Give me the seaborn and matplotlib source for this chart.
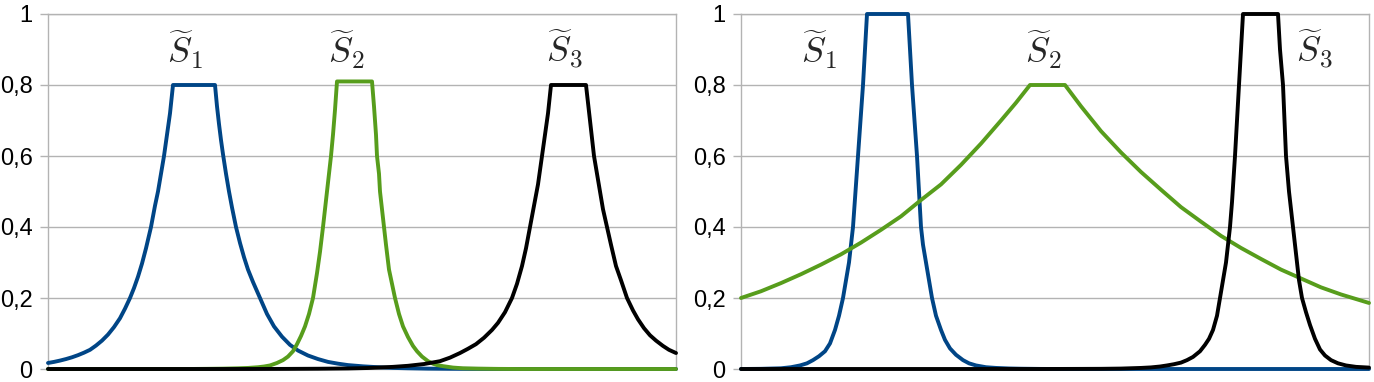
import matplotlib
matplotlib.use('Agg')
import matplotlib.pyplot as plt
import pandas as pd
import seaborn as sns
from matplotlib.ticker import FuncFormatter

# left panel: S1, S2, S3 (x on an arbitrary 0..628 scale)
left_s1_x = [0, 6, 12, 18, 24, 30, 36, 42, 48, 54, 60, 66, 72, 77, 82, 86, 90, 94, 98, 103, 107, 110, 113, 116,
             119, 122, 125,
             167, 169, 171, 173, 175, 178, 181, 184, 188, 192, 196, 200, 205, 212, 219, 226, 234, 242, 250, 260,
             270, 280, 290, 300, 315, 330, 345, 360, 380, 400, 425, 450, 500, 628]
left_s1_y = [0.017, 0.020, 0.0237, 0.028, 0.033, 0.039, 0.046, 0.054, 0.066, 0.080, 0.097, 0.118, 0.143, 0.17,
             0.2, 0.228, 0.26, 0.297, 0.34, 0.4, 0.46, 0.5, 0.55, 0.6, 0.66, 0.72, 0.8,
             0.8, 0.74, 0.69, 0.645, 0.605, 0.55, 0.5, 0.455, 0.4, 0.355, 0.315, 0.28, 0.245, 0.2, 0.155, 0.12,
             0.091, 0.068, 0.052, 0.038, 0.028, 0.02, 0.015, 0.011, 0.0075, 0.005, 0.003, 0.002, 0.001, 0.0006,
             0.0003, 0.0001, 0, 0]

left_s2_x = [0, 140, 160, 175, 190, 200, 210, 216, 222, 229, 235, 240, 245, 249, 253, 257, 261, 265, 269, 272,
             275, 277, 279, 281, 283, 285, 287, 289,
             324, 326, 328, 329, 331, 332, 334, 336, 338, 341, 344, 347, 351, 355, 360, 365, 369, 374, 380, 385,
             389, 395, 405, 415, 430, 450, 470, 628]
left_s2_y = [0, 0, 0.0005, 0.001, 0.002, 0.003, 0.005, 0.007, 0.01, 0.017, 0.025, 0.035, 0.05, 0.07, 0.093,
             0.12, 0.155, 0.2, 0.27, 0.33, 0.4, 0.45, 0.5, 0.55, 0.6, 0.66, 0.73, 0.81,
             0.81, 0.74, 0.66, 0.6, 0.55, 0.5, 0.45, 0.4, 0.35, 0.28, 0.24, 0.2, 0.155, 0.12, 0.09, 0.065, 0.05,
             0.035, 0.022, 0.015, 0.011, 0.008, 0.004, 0.002, 0.001, 0.0003, 0, 0]

left_s3_x = [0, 200, 240, 270, 300, 320, 345, 360, 376, 392, 402, 412, 420, 428, 436, 444, 450, 457, 464, 469,
             474, 478, 482, 486, 490, 494, 497, 500, 503,
             538, 540, 542, 544, 546, 549, 552, 555, 559, 563, 568, 573, 579, 585, 590, 596, 602, 608, 615, 621,
             628]
left_s3_y = [0, 0, 0.0003, 0.0007, 0.0015, 0.0028, 0.006, 0.009, 0.014, 0.022, 0.032, 0.045, 0.057, 0.07,
             0.088, 0.11, 0.13, 0.16, 0.2, 0.24, 0.29, 0.34, 0.4, 0.46, 0.52, 0.6, 0.66, 0.72, 0.8,
             0.8, 0.75, 0.7, 0.65, 0.6, 0.55, 0.5, 0.45, 0.4, 0.35, 0.29, 0.25, 0.2, 0.165, 0.14, 0.115, 0.095,
             0.08, 0.065, 0.054, 0.045]

# right panel
right_s1_x = [0, 20, 40, 50, 59, 66, 72, 78, 84, 89, 94, 98, 102, 105, 108, 110, 112, 114, 117, 119, 122, 124,
              126,
              167, 169, 171, 173, 176, 178, 180, 182, 185, 188, 191, 195, 200, 204, 209, 215, 222, 228, 235, 245,
              255, 268, 280, 300, 320, 628]
right_s1_y = [0, 0.0005, 0.002, 0.005, 0.01, 0.016, 0.025, 0.036, 0.05, 0.072, 0.11, 0.15, 0.2, 0.25, 0.3,
              0.35, 0.4, 0.48, 0.6, 0.68, 0.8, 0.9, 1.0,
              1.0, 0.9, 0.8, 0.72, 0.6, 0.5, 0.4, 0.35, 0.3, 0.25, 0.2, 0.15, 0.11, 0.082, 0.058, 0.04, 0.025,
              0.016, 0.01, 0.005, 0.003, 0.0015, 0.0008, 0.0002, 0, 0]

right_s2_x = [0, 20, 40, 60, 80, 100, 120, 140, 160, 180, 200, 220, 240, 260, 275, 289,
              324, 340, 360, 380, 400, 420, 440, 460, 480, 500, 520, 540, 560, 580, 600, 628]
right_s2_y = [0.200, 0.219, 0.242, 0.267, 0.294, 0.323, 0.356, 0.392, 0.43, 0.476, 0.52, 0.575, 0.635, 0.70,
              0.75, 0.80,
              0.80, 0.74, 0.67, 0.61, 0.555, 0.505, 0.456, 0.415, 0.375, 0.341, 0.31, 0.28, 0.255, 0.23, 0.21,
              0.186]

right_s3_x = [0, 300, 340, 360, 380, 400, 410, 419, 426, 433, 440, 446, 452, 459, 464, 468, 472, 476, 479, 482,
              485, 487, 489, 491, 494, 496, 498, 500, 502,
              537, 539, 542, 545, 548, 552, 556, 558, 561, 565, 569, 574, 579, 584, 590, 597, 605, 615, 628]
right_s3_y = [0, 0, 0.0003, 0.0005, 0.0012, 0.003, 0.0045, 0.007, 0.01, 0.0135, 0.018, 0.025, 0.034, 0.05,
              0.068, 0.085, 0.11, 0.15, 0.2, 0.25, 0.3, 0.35, 0.4, 0.47, 0.6, 0.7, 0.8, 0.9, 1.0,
              1.0, 0.9, 0.8, 0.6, 0.5, 0.4, 0.3, 0.25, 0.2, 0.16, 0.124, 0.085, 0.055, 0.038, 0.025, 0.016, 0.01,
              0.006, 0.004]

series_names = ['S1', 'S2', 'S3']
labels = [r'$\widetilde{S}_1$', r'$\widetilde{S}_2$', r'$\widetilde{S}_3$']
y_ticks = [0, 0.2, 0.4, 0.6, 0.8, 1]

colors = {'S1': '#004586', 'S2': '#579d1c', 'S3': '#000000'}
grey = '#b3b3b3'

sns.set_style('white')
plt.rcParams['font.family'] = ['Liberation Sans', 'DejaVu Sans']
plt.rcParams['mathtext.fontset'] = 'cm'


def make_frame(xs, ys):
    parts = []
    for name, x, y in zip(series_names, xs, ys):
        parts.append(pd.DataFrame({'x': x, 'y': y, 'series': name}))
    return pd.concat(parts, ignore_index=True)


left_df = make_frame([left_s1_x, left_s2_x, left_s3_x], [left_s1_y, left_s2_y, left_s3_y])
right_df = make_frame([right_s1_x, right_s2_x, right_s3_x], [right_s1_y, right_s2_y, right_s3_y])

fig = plt.figure(figsize=(13.74, 3.82), dpi=100)
ax_left = fig.add_axes([48 / 1374, 13 / 382, 628 / 1374, 355 / 382])
ax_right = fig.add_axes([741 / 1374, 13 / 382, 628 / 1374, 355 / 382])

# label positions (x, y) in data units
left_label_pos = [(137, 0.9), (299, 0.9), (517, 0.9)]
right_label_pos = [(78, 0.9), (303, 0.9), (574, 0.9)]

for ax, df, pos in [(ax_left, left_df, left_label_pos), (ax_right, right_df, right_label_pos)]:
    sns.lineplot(data=df, x='x', y='y', hue='series', palette=colors, hue_order=series_names,
                 linewidth=2.8, ax=ax, legend=False, estimator=None, sort=False)
    for line in ax.get_lines():
        line.set_clip_on(False)
        line.set_solid_joinstyle('round')
        line.set_zorder(3)
    ax.set_xlim(0, 628)
    ax.set_ylim(0, 1)
    ax.set_yticks(y_ticks)
    ax.yaxis.set_major_formatter(FuncFormatter(lambda v, _: f'{v:g}'.replace('.', ',')))
    ax.set_xticks([])
    ax.set_xlabel('')
    ax.set_ylabel('')
    ax.set_axisbelow(True)
    ax.yaxis.grid(True, color=grey, linewidth=1)
    ax.tick_params(axis='y', direction='out', length=6, width=1, color=grey, labelsize=17, pad=5,
                   labelcolor='black', left=True)
    for sp in ax.spines.values():
        sp.set_color(grey)
        sp.set_linewidth(1)
    for lab, (px, py) in zip(labels, pos):
        ax.text(px, py, lab, fontsize=26, ha='center', va='center')

fig.savefig('out.png', dpi=100)
